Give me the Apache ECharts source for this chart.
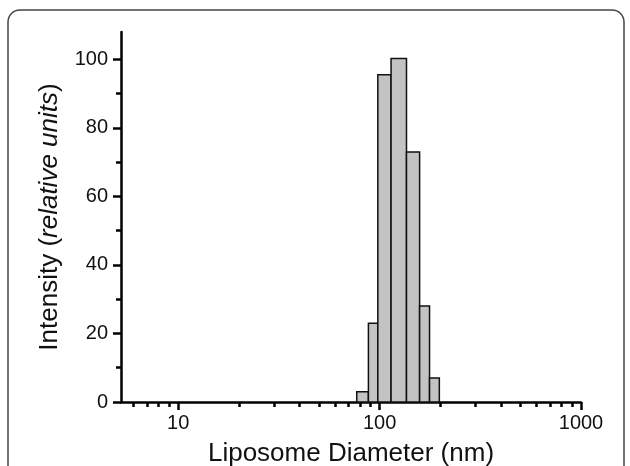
<!DOCTYPE html>
<html>
<head>
<meta charset="utf-8">
<script src="https://cdn.jsdelivr.net/npm/echarts@6/dist/echarts.min.js"></script>
<style>
  html, body { margin: 0; padding: 0; background: #fff; }
  #chart { width: 630px; height: 466px; }
</style>
</head>
<body>
<div id="chart"></div>
<script>
// histogram bins (nm)
const binLo = [77, 88, 98, 114, 136, 158, 177]
const binHi = [88, 98, 114, 136, 158, 177, 198]
const intensity = [3, 23, 95.5, 100.3, 73, 28, 7]

// axis ticks
const xMajor = [10, 100, 1000]
const xMinor = [6, 7, 8, 9, 20, 30, 40, 50, 60, 70, 80, 90, 200, 300, 400, 500, 600, 700, 800, 900]
const yMajor = [0, 20, 40, 60, 80, 100]
const yMinor = [10, 30, 50, 70, 90]

const font = 'Liberation Sans, Arial, sans-serif'
const chart = echarts.init(document.getElementById('chart'))

const bars = binLo.map((lo, i) => [lo, binHi[i], intensity[i]])

const xBase = {
  type: 'log',
  logBase: 10,
  min: 5.2,
  max: 1000,
  splitLine: { show: false },
  minorTick: { show: false }
}
const yBase = {
  type: 'value',
  min: 0,
  max: 108,
  splitLine: { show: false },
  minorTick: { show: false }
}

chart.setOption({
  animation: false,
  grid: { left: 121, right: 49, top: 32, bottom: 64, containLabel: false, outerBoundsMode: 'none' },
  graphic: [{
    type: 'rect',
    shape: { x: 8, y: 10, width: 616, height: 490, r: 12 },
    style: { fill: 'none', stroke: '#444', lineWidth: 1.5 },
    silent: true
  }],
  xAxis: [
    Object.assign({}, xBase, {
      name: 'Liposome Diameter (nm)',
      nameLocation: 'middle',
      nameGap: 39,
      nameTextStyle: { fontFamily: font, fontSize: 26, color: '#111' },
      axisLine: { show: true, lineStyle: { color: '#000', width: 2.5 } },
      axisTick: { show: true, customValues: xMajor, length: 8, lineStyle: { color: '#000', width: 2.5 } },
      axisLabel: {
        customValues: xMajor,
        formatter: v => String(v),
        fontFamily: font, fontSize: 20, color: '#111', margin: 11
      }
    }),
    Object.assign({}, xBase, {
      position: 'bottom',
      axisLine: { show: false },
      axisTick: { show: true, customValues: xMinor, length: 5, lineStyle: { color: '#000', width: 2.5 } },
      axisLabel: { show: false }
    })
  ],
  yAxis: [
    Object.assign({}, yBase, {
      name: '{n|Intensity (}{i|relative units}{n|)}',
      nameLocation: 'middle',
      nameGap: 58,
      nameTextStyle: {
        rich: {
          n: { fontFamily: font, fontSize: 26, color: '#111' },
          i: { fontFamily: font, fontSize: 26, color: '#111', fontStyle: 'italic' }
        }
      },
      axisLine: { show: true, lineStyle: { color: '#000', width: 2.5 } },
      axisTick: { show: true, customValues: yMajor, length: 8, lineStyle: { color: '#000', width: 2.5 } },
      axisLabel: { customValues: yMajor, fontFamily: font, fontSize: 20, color: '#111', margin: 13 }
    }),
    Object.assign({}, yBase, {
      position: 'left',
      axisLine: { show: false },
      axisTick: { show: true, customValues: yMinor, length: 5, lineStyle: { color: '#000', width: 2.5 } },
      axisLabel: { show: false }
    })
  ],
  series: [{
    type: 'custom',
    xAxisIndex: 0,
    yAxisIndex: 0,
    data: bars,
    renderItem: (params, api) => {
      const p0 = api.coord([api.value(0), api.value(2)])
      const p1 = api.coord([api.value(1), 0])
      return {
        type: 'rect',
        shape: { x: p0[0], y: p0[1], width: p1[0] - p0[0], height: p1[1] - p0[1] },
        style: { fill: '#c3c3c3', stroke: '#111', lineWidth: 1.5 }
      }
    }
  }]
})
</script>
</body>
</html>
